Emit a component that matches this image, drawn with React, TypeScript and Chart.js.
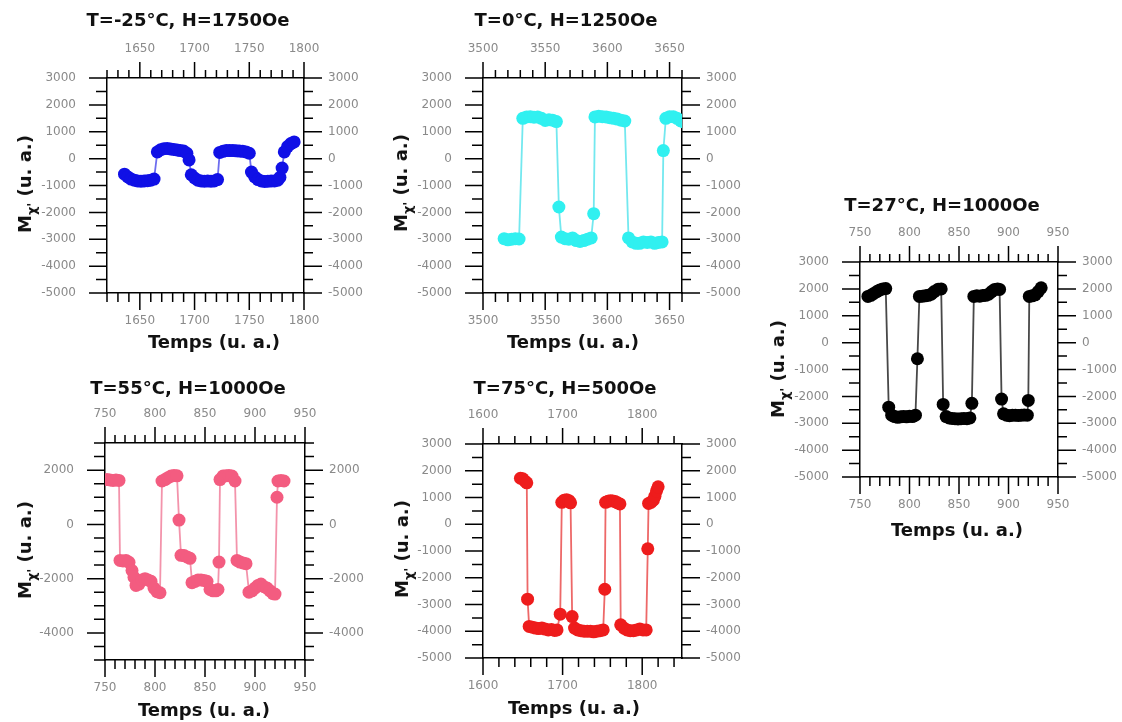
import React, { useEffect, useRef } from "react";
import { Chart, registerables } from "chart.js";

Chart.register(...registerables);

// ---------- data ----------
// Panel A : T=-25°C, H=1750Oe
const timeA = [1636, 1639, 1642, 1645, 1648, 1651, 1654, 1657, 1660, 1663,
  1666, 1669, 1672, 1675, 1678, 1681, 1684, 1687, 1690, 1693, 1695,
  1697, 1700, 1703, 1706, 1709, 1712, 1715, 1718, 1721,
  1723, 1726, 1729, 1732, 1735, 1738, 1741, 1744, 1747, 1750,
  1752, 1755, 1758, 1761, 1764, 1767, 1770, 1773, 1776, 1778,
  1780, 1782, 1785, 1788, 1791];
const magA = [-580, -680, -760, -800, -830, -840, -830, -820, -800, -760,
  250, 330, 370, 380, 360, 340, 320, 300, 280, 200, -50,
  -600, -720, -800, -830, -840, -830, -840, -830, -780,
  230, 270, 300, 300, 300, 290, 280, 270, 250, 200,
  -500, -680, -780, -830, -850, -840, -830, -830, -800, -700,
  -350, 250, 450, 560, 620];

// Panel B : T=0°C, H=1250Oe
const timeB = [3517, 3520, 3523, 3526, 3529,
  3532, 3535, 3538, 3541, 3544, 3547, 3550, 3553, 3556, 3559,
  3561, 3563, 3566, 3569, 3572, 3575, 3578, 3581, 3584, 3587,
  3589, 3590, 3593, 3596, 3599, 3602, 3605, 3608, 3611, 3614,
  3617, 3620, 3623, 3626, 3629, 3632, 3635, 3638, 3641, 3644,
  3645, 3647, 3650, 3653, 3656, 3659, 3662];
const magB = [-2980, -3020, -3000, -2980, -2990,
  1500, 1550, 1560, 1540, 1550, 1500, 1420, 1450, 1430, 1380,
  -1800, -2920, -2980, -3000, -2950, -3050, -3080, -3050, -3000, -2950,
  -2050, 1550, 1580, 1560, 1550, 1520, 1500, 1470, 1430, 1400,
  -2950, -3100, -3150, -3150, -3100, -3120, -3100, -3150, -3120, -3100,
  300, 1500, 1560, 1560, 1500, 1400, 1350];

// Panel C : T=27°C, H=1000Oe
const timeC = [758, 761, 764, 767, 770, 773, 776,
  779, 782, 785, 788, 791, 794, 797, 800, 803, 806,
  808,
  810, 813, 816, 819, 822, 825, 829, 832,
  834, 837, 840, 843, 846, 849, 852, 855, 858, 861,
  863,
  865, 868, 871, 874, 877, 880, 883, 886, 889, 891,
  893, 895, 898, 901, 904, 907, 910, 913, 916, 919,
  920,
  921, 924, 927, 930, 933];
const magC = [1720, 1760, 1830, 1900, 1960, 2000, 2010,
  -2400, -2700, -2750, -2780, -2760, -2750, -2760, -2740, -2750, -2700,
  -600,
  1720, 1730, 1740, 1760, 1800, 1900, 1990, 2000,
  -2300, -2750, -2800, -2820, -2830, -2840, -2830, -2820, -2830, -2800,
  -2260,
  1720, 1740, 1730, 1750, 1760, 1800, 1900, 1980, 2000, 1980,
  -2100, -2650, -2700, -2720, -2700, -2700, -2710, -2700, -2690, -2700,
  -2150,
  1720, 1740, 1780, 1900, 2040];

// Panel D : T=55°C, H=1000Oe
const timeD = [752, 755, 758, 761, 764,
  765, 768, 771, 774, 777, 779, 781, 784, 787, 790, 793, 796, 799, 802, 805,
  807, 810, 813, 816, 819, 822,
  824, 826, 829, 832, 835,
  837, 840, 843, 846, 849, 852, 855, 858, 861, 863,
  864,
  865, 868, 871, 874, 877, 880,
  882, 885, 888, 891,
  894, 897, 900, 903, 906, 909, 912, 915, 918, 920,
  922,
  923, 926, 929];
const magD = [1650, 1640, 1620, 1640, 1620,
  -1330, -1350, -1330, -1400, -1700, -1950, -2250, -2200, -2050, -2000, -2050, -2100, -2350, -2480, -2520,
  1600, 1650, 1720, 1780, 1800, 1790,
  160, -1140, -1150, -1200, -1250,
  -2150, -2100, -2050, -2050, -2070, -2100, -2400, -2450, -2450, -2400,
  -1390,
  1650, 1780, 1790, 1800, 1780, 1600,
  -1330, -1390, -1420, -1450,
  -2500, -2450, -2350, -2250, -2200, -2300, -2350, -2450, -2550, -2570,
  1000,
  1600, 1620, 1600];

// Panel E : T=75°C, H=500Oe
const timeE = [1647, 1650, 1653, 1655,
  1656,
  1658, 1662, 1666, 1670, 1674, 1678, 1682, 1686, 1690, 1693,
  1697,
  1699, 1702, 1705, 1708, 1710,
  1712,
  1715, 1719, 1723, 1727, 1731, 1735, 1739, 1743, 1747, 1751,
  1753,
  1754, 1757, 1760, 1763, 1766, 1769, 1772,
  1773, 1777, 1781, 1785, 1789, 1793, 1797, 1801, 1805,
  1807,
  1808, 1811, 1814, 1816, 1818, 1820];
const magE = [1720, 1700, 1600, 1550,
  -2800,
  -3820, -3850, -3880, -3900, -3880, -3920, -3950, -3930, -3970, -3950,
  -3360,
  820, 900, 920, 880, 800,
  -3450,
  -3880, -3950, -3980, -4000, -4000, -4000, -4020, -4000, -3980, -3950,
  -2430,
  820, 860, 880, 870, 850, 800, 760,
  -3760, -3880, -3950, -3980, -3980, -3950, -3920, -3950, -3950,
  -920,
  780, 820, 900, 1050, 1250, 1400];

// tick labels
const xTicksA = [1650, 1700, 1750, 1800];
const xTicksB = [3500, 3550, 3600, 3650];
const xTicksC = [750, 800, 850, 900, 950];
const xTicksE = [1600, 1700, 1800];
const yTicksFull = [-5000, -4000, -3000, -2000, -1000, 0, 1000, 2000, 3000];
const yTicksWide = [-4000, -2000, 0, 2000];

// ---------- layout / style ----------
const FONT = "'DejaVu Sans', sans-serif";
const M_L = 95, M_R = 80, M_T = 70, M_B = 65;

type Spec = {
  key: string; title: string; time: number[]; mag: number[];
  color: string; line: string;
  box: [number, number, number, number];
  xRange: [number, number]; xTicks: number[]; xMinor: number;
  yTicks: number[]; yMinor: number;
  titlePos: [number, number]; yTitlePos: [number, number]; xTitlePos: [number, number];
};

const panels: Spec[] = [
  { key: "a", title: "T=-25°C, H=1750Oe", time: timeA, mag: magA, color: "#1010e6", line: "rgba(30,30,230,0.65)",
    box: [107, 78, 304, 293], xRange: [1620, 1800], xTicks: xTicksA, xMinor: 10, yTicks: yTicksFull, yMinor: 500,
    titlePos: [188, 20], yTitlePos: [25, 184], xTitlePos: [214, 342] },
  { key: "b", title: "T=0°C, H=1250Oe", time: timeB, mag: magB, color: "#30f0f0", line: "rgba(40,220,230,0.65)",
    box: [483, 78, 682, 293], xRange: [3500, 3660], xTicks: xTicksB, xMinor: 10, yTicks: yTicksFull, yMinor: 500,
    titlePos: [566, 20], yTitlePos: [401, 183], xTitlePos: [573, 342] },
  { key: "c", title: "T=27°C, H=1000Oe", time: timeC, mag: magC, color: "#000000", line: "rgba(40,40,40,0.85)",
    box: [860, 262, 1058, 477], xRange: [750, 950], xTicks: xTicksC, xMinor: 10, yTicks: yTicksFull, yMinor: 500,
    titlePos: [942, 205], yTitlePos: [778, 369], xTitlePos: [957, 530] },
  { key: "d", title: "T=55°C, H=1000Oe", time: timeD, mag: magD, color: "#f35c80", line: "rgba(240,120,150,0.8)",
    box: [105, 443, 305, 660], xRange: [750, 950], xTicks: xTicksC, xMinor: 10, yTicks: yTicksWide, yMinor: 500,
    titlePos: [188, 388], yTitlePos: [25, 550], xTitlePos: [204, 710] },
  { key: "e", title: "T=75°C, H=500Oe", time: timeE, mag: magE, color: "#ee1c1c", line: "rgba(230,40,40,0.7)",
    box: [483, 444, 682, 658], xRange: [1600, 1850], xTicks: xTicksE, xMinor: 20, yTicks: yTicksFull, yMinor: 500,
    titlePos: [565, 388], yTitlePos: [402, 549], xTitlePos: [574, 708] },
];

function makeTickPlugin(spec: Spec) {
  return {
    id: "tickMarks",
    afterDraw(chart: any) {
      const { ctx, chartArea: a, scales } = chart;
      const xs = scales.x, ys = scales.y;
      ctx.save();
      ctx.strokeStyle = "#000";
      ctx.lineWidth = 1.5;
      ctx.beginPath();
      const [x0, x1] = spec.xRange;
      for (let i = 0; ; i++) {
        const v = x0 + i * spec.xMinor;
        if (v > x1 + 1e-9) break;
        const px = xs.getPixelForValue(v);
        const major = spec.xTicks.includes(v);
        ctx.moveTo(px, a.top); ctx.lineTo(px, a.top - (major ? 16 : 8));
        ctx.moveTo(px, a.bottom); ctx.lineTo(px, a.bottom + (major ? 17 : 9));
      }
      for (let i = 0; ; i++) {
        const v = -5000 + i * spec.yMinor;
        if (v > 3000 + 1e-9) break;
        const py = ys.getPixelForValue(v);
        const major = spec.yTicks.includes(v);
        ctx.moveTo(a.left, py); ctx.lineTo(a.left - (major ? 18 : 11), py);
        ctx.moveTo(a.right, py); ctx.lineTo(a.right + (major ? 18 : 9), py);
      }
      ctx.stroke();
      ctx.restore();
    },
  };
}

function axis(pos: string, min: number, max: number, ticks: number[], size: number, tickLen: number, pad: number) {
  const vertical = pos === "left" || pos === "right";
  return {
    type: "linear",
    position: pos,
    axis: vertical ? "y" : "x",
    min, max, bounds: "data",
    afterBuildTicks: (s: any) => { s.ticks = ticks.map((v) => ({ value: v })); },
    afterFit: (s: any) => { if (vertical) s.width = size; else s.height = size; },
    grid: { display: true, drawOnChartArea: false, drawTicks: true, tickLength: tickLen, tickColor: "rgba(0,0,0,0)" },
    border: { display: true, color: "#000", width: 1.5 },
    ticks: { padding: pad, font: { family: FONT, size: 12 }, color: "#8a8a8a", autoSkip: false, maxRotation: 0,
      callback: (v: any) => String(v) },
  };
}

function Panel({ spec }: { spec: Spec }) {
  const ref = useRef<HTMLCanvasElement>(null);
  const [L, T, R, B] = spec.box;
  const w = R - L + M_L + M_R;
  const h = B - T + M_T + M_B;
  useEffect(() => {
    const chart = new Chart(ref.current as HTMLCanvasElement, {
      type: "line",
      data: {
        datasets: [{
          data: spec.time.map((t, i) => ({ x: t, y: spec.mag[i] })),
          borderColor: spec.line,
          borderWidth: 1.8,
          pointRadius: 6.5,
          pointBackgroundColor: spec.color,
          pointBorderColor: spec.color,
          pointBorderWidth: 0,
          tension: 0,
          fill: false,
        }],
      },
      options: {
        responsive: false,
        animation: false,
        events: [],
        layout: { padding: 0 },
        plugins: { legend: { display: false }, tooltip: { enabled: false }, title: { display: false } },
        scales: {
          x: axis("bottom", spec.xRange[0], spec.xRange[1], spec.xTicks, M_B, 16, 4.5),
          x2: axis("top", spec.xRange[0], spec.xRange[1], spec.xTicks, M_T, 16, 6),
          y: axis("left", -5000, 3000, spec.yTicks, M_L, 18, 13),
          y2: axis("right", -5000, 3000, spec.yTicks, M_R, 18, 6),
        } as any,
      },
      plugins: [makeTickPlugin(spec)],
    } as any);
    return () => chart.destroy();
  }, [spec]);

  const textBase: React.CSSProperties = {
    position: "absolute", whiteSpace: "nowrap", fontFamily: FONT, fontWeight: "bold",
    fontSize: 18, lineHeight: 1, color: "#111",
  };
  return (
    <>
      <canvas ref={ref} width={w} height={h}
        style={{ position: "absolute", left: L - M_L, top: T - M_T, width: w, height: h }} />
      <div style={{ ...textBase, left: spec.titlePos[0], top: spec.titlePos[1], transform: "translate(-50%,-50%)" }}>
        {spec.title}
      </div>
      <div style={{ ...textBase, left: spec.xTitlePos[0], top: spec.xTitlePos[1], transform: "translate(-50%,-50%)" }}>
        Temps (u. a.)
      </div>
      <div style={{ ...textBase, left: spec.yTitlePos[0], top: spec.yTitlePos[1],
        transform: "translate(-50%,-50%) rotate(-90deg)" }}>
        M<span style={{ fontSize: 13, position: "relative", top: 5 }}>χ'</span> (u. a.)
      </div>
    </>
  );
}

export default function App() {
  return (
    <div style={{ position: "fixed", left: 0, top: 0, width: 1122, height: 722, overflow: "hidden", background: "#fff" }}>
      {panels.map((p) => <Panel key={p.key} spec={p} />)}
    </div>
  );
}
